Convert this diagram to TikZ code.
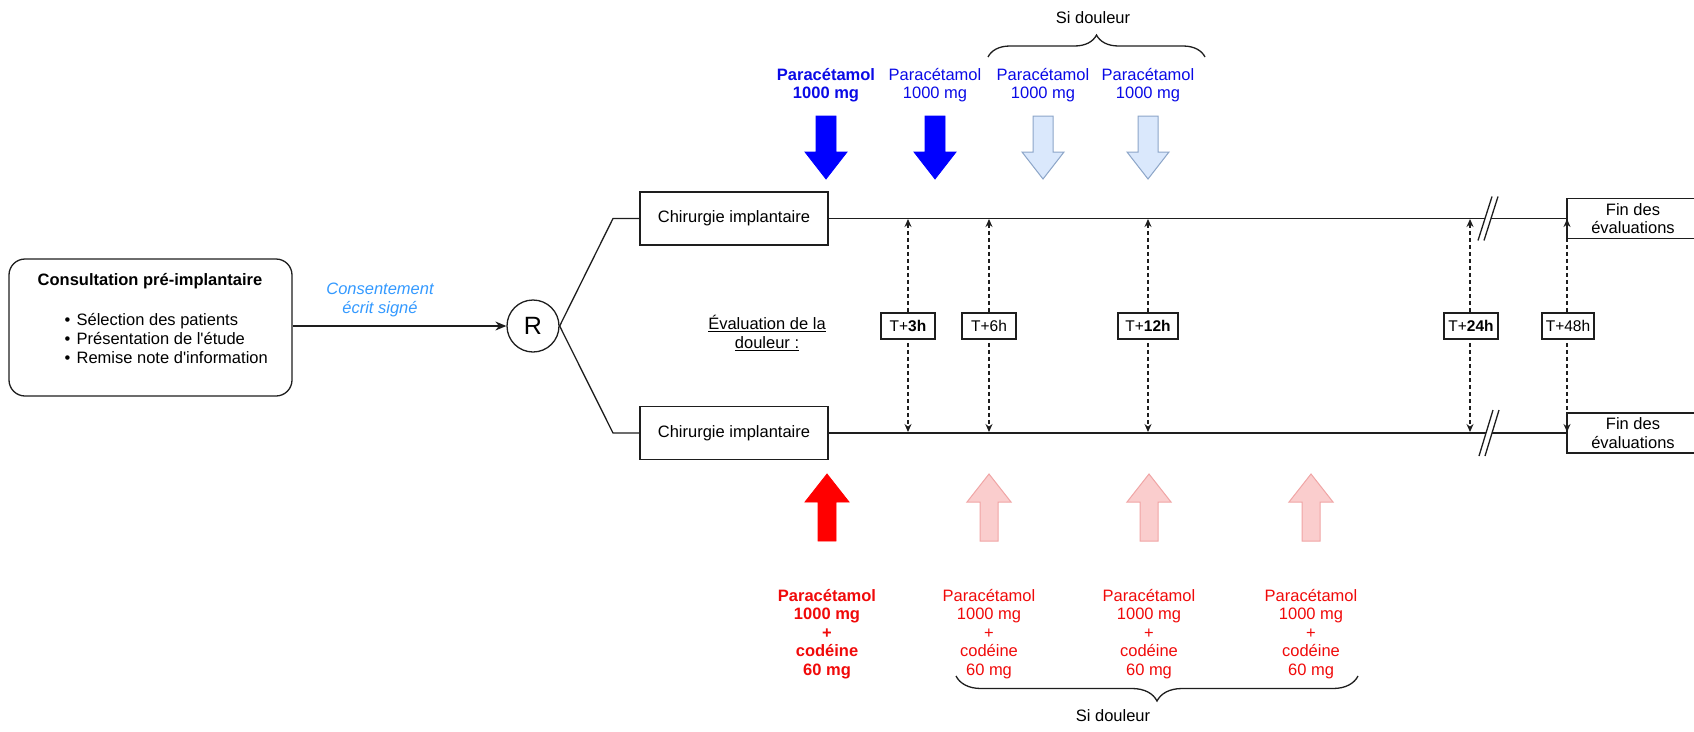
\documentclass[tikz,border=0pt]{standalone}
\usepackage{fontspec}
\setmainfont{Liberation Sans}
\usetikzlibrary{arrows.meta,decorations.pathreplacing}
\definecolor{bluetxt}{RGB}{10,10,230}
\definecolor{bluearr}{RGB}{0,0,255}
\definecolor{lbfill}{RGB}{218,232,252}
\definecolor{lbdraw}{RGB}{140,165,200}
\definecolor{redtxt}{RGB}{240,10,10}
\definecolor{redarr}{RGB}{255,0,0}
\definecolor{pkfill}{RGB}{250,205,205}
\definecolor{pkdraw}{RGB}{240,165,165}
\definecolor{consc}{RGB}{51,153,255}
\definecolor{ln}{RGB}{30,30,30}
\newcommand\fsz{\fontsize{16.5}{18.5}\selectfont}
\newcommand\tsz{\fontsize{15.5}{18}\selectfont}
\begin{document}
\begin{tikzpicture}[x=1pt,y=-1pt,line width=1.3pt,draw=ln,
  every node/.style={font=\fsz,inner sep=0pt,align=center},
  box/.style={draw=ln,line width=1.3pt,fill=white},
  tbox/.style={box,minimum height=26pt,minimum width=54pt,font=\tsz},
  finbox/.style={box,minimum width=132pt,minimum height=40pt},
  chirbox/.style={box,minimum width=188pt,minimum height=53pt},
  evalarr/.style={{Stealth[length=8pt,width=7pt]}-{Stealth[length=8pt,width=7pt]},dash pattern=on 4pt off 3pt,line width=1.2pt},
  brk/.style={line width=1.3pt},
  bracestyle/.style={decorate,line width=1.3pt},
  darrow/.pic={\path[pic actions] (-10,0) -- (10,0) -- (10,36) -- (21,36) -- (0,63) -- (-21,36) -- (-10,36) -- cycle;},
  uarrow/.pic={\path[pic actions] (-9,0) -- (9,0) -- (9,-39) -- (22,-39) -- (0,-67) -- (-22,-39) -- (-9,-39) -- cycle;}]
\useasboundingbox (0,0) rectangle (1694,731);

% consultation
\node[box,rounded corners=16pt,minimum width=283pt,minimum height=137pt] (cons) at (150.5,327.5) {};
\node[font=\fsz\bfseries] (constitle) at (150,281) {Consultation pré-implantaire};
\node[anchor=west,align=left,font=\fontsize{16.5}{19}\selectfont] (consbul) at (64,338)
  {\makebox[12pt][l]{•}Sélection des patients\\\makebox[12pt][l]{•}Présentation de l\textquotesingle étude\\\makebox[12pt][l]{•}Remise note d\textquotesingle information};

% randomisation
\node[draw=ln,circle,minimum size=52pt,font=\fontsize{25}{25}\selectfont] (R) at (533,326) {R};
\draw[-{Stealth[length=11pt,width=9pt]}] (cons.east |- R) -- (R.west);
\node[text=consc,font=\fsz\itshape] (consent) at (380,300) {Consentement\\écrit signé};

% surgery boxes
\node[chirbox] (chir1) at (734,218.5) {Chirurgie implantaire};
\node[chirbox] (chir2) at (734,433) {Chirurgie implantaire};
\coordinate (k1) at (613,218.5);
\coordinate (k2) at (613,433);
\draw (R.east) -- (k1) -- (chir1.west);
\draw (R.east) -- (k2) -- (chir2.west);

% end boxes
\node[finbox] (fin1) at (1633,218.5) {Fin des\\évaluations};
\node[finbox] (fin2) at (1633,433) {Fin des\\évaluations};

% timelines with breaks
\coordinate (b1l) at (1485,218.5);
\coordinate (b1r) at (1491,218.5);
\coordinate (b2l) at (1486,433);
\coordinate (b2r) at (1492,433);
\draw (chir1.east) -- (b1l);
\draw (b1r) -- (fin1.west);
\draw (chir2.east) -- (b2l);
\draw (b2r) -- (fin2.west);
\draw[brk] ([shift={(-7,22)}]b1l) -- ([shift={(7,-22)}]b1l);
\draw[brk] ([shift={(-7,22)}]b1r) -- ([shift={(7,-22)}]b1r);
\draw[brk] ([shift={(-7,23)}]b2l) -- ([shift={(7,-23)}]b2l);
\draw[brk] ([shift={(-7,23)}]b2r) -- ([shift={(7,-23)}]b2r);

% evaluation label
\node (evl) at (767,333) {\underline{Évaluation de la}\\\underline{douleur :}};

% evaluation times
\foreach \n/\x in {3/908,6/989,12/1148,24/1470,48/1567}{
  \coordinate (e\n t) at (\x,219);
  \coordinate (e\n b) at (\x,432);
  \draw[evalarr] (e\n t) -- (e\n b);
}
\node[tbox] (t3) at (908,326) {T+\textbf{3h}};
\node[tbox] (t6) at (989,326) {T+6h};
\node[tbox,minimum width=60pt] (t12) at (1148,326) {T+\textbf{12h}};
\node[tbox] (t24) at (1471,326) {T+\textbf{24h}};
\node[tbox,minimum width=52pt] (t48) at (1568,326) {T+48h};

% paracetamol (top)
\pic[fill=bluearr,draw=bluearr,line width=0.8pt] at (826,116) {darrow};
\pic[fill=bluearr,draw=bluearr,line width=0.8pt] at (935,116) {darrow};
\pic[fill=lbfill,draw=lbdraw,line width=1pt] at (1043,116) {darrow};
\pic[fill=lbfill,draw=lbdraw,line width=1pt] at (1148,116) {darrow};
\node[text=bluetxt,font=\fsz\bfseries] (p1) at (826,85) {Paracétamol\\1000 mg};
\node[text=bluetxt] (p2) at (935,85) {Paracétamol\\1000 mg};
\node[text=bluetxt] (p3) at (1043,85) {Paracétamol\\1000 mg};
\node[text=bluetxt] (p4) at (1148,85) {Paracétamol\\1000 mg};
\draw[bracestyle,decoration={brace,amplitude=22pt}] (988,57) -- (1205,57);
\node (sd1) at (1093,18) {Si douleur};

% paracetamol + codeine (bottom)
\pic[fill=redarr,draw=redarr,line width=0.8pt] at (827,541) {uarrow};
\pic[fill=pkfill,draw=pkdraw,line width=1pt] at (989,541) {uarrow};
\pic[fill=pkfill,draw=pkdraw,line width=1pt] at (1149,541) {uarrow};
\pic[fill=pkfill,draw=pkdraw,line width=1pt] at (1311,541) {uarrow};
\node[text=redtxt,font=\fsz\bfseries] (c1) at (827,634) {Paracétamol\\1000 mg\\+\\codéine\\60 mg};
\node[text=redtxt] (c2) at (989,634) {Paracétamol\\1000 mg\\+\\codéine\\60 mg};
\node[text=redtxt] (c3) at (1149,634) {Paracétamol\\1000 mg\\+\\codéine\\60 mg};
\node[text=redtxt] (c4) at (1311,634) {Paracétamol\\1000 mg\\+\\codéine\\60 mg};
\draw[bracestyle,decoration={brace,amplitude=25pt}] (1358,676) -- (956,676);
\node (sd2) at (1113,716) {Si douleur};
\end{tikzpicture}
\end{document}
